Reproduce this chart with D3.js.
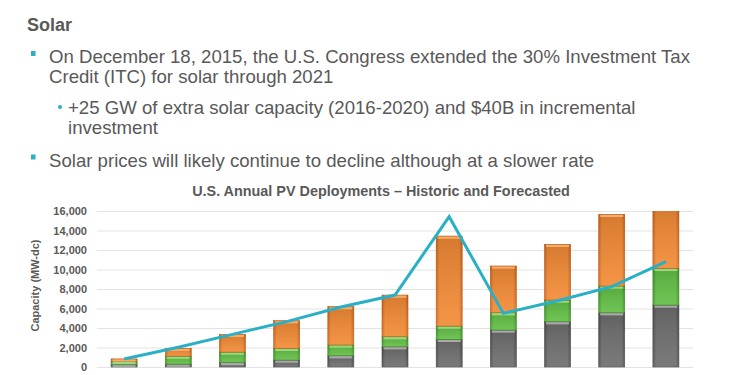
<!DOCTYPE html>
<html><head><meta charset="utf-8">
<script src="https://cdn.jsdelivr.net/npm/d3@7"></script>
<style>body{margin:0;background:#fff}svg{display:block}text{font-family:"Liberation Sans",Arial,sans-serif}</style>
</head><body>
<svg id="c" width="740" height="375"></svg>
<script>
const categories = ["2010","2011","2012","2013","2014","2015","2016","2017","2018","2019","2020"];
const residential = [240, 300, 470, 720, 1160, 2080, 2840, 3800, 4650, 5570, 6360];
const nonResidential = [350, 820, 1060, 1200, 1100, 1030, 1360, 1770, 2220, 2740, 3760];
const utility = [240, 800, 1820, 2830, 3930, 4270, 9230, 4790, 5710, 7350, 6280];
const totalLine = [820, 2020, 3350, 4650, 6150, 7380, 15420, 5500, 6800, 8240, 10800];
const yTicks = [0,2000,4000,6000,8000,10000,12000,14000,16000];
const seriesNames = ["Residential","Non-Residential","Utility"];

const svg = d3.select("#c");
const textCol = "#595959", teal = "#2ab0c6";

// Slide text
svg.append("text").attr("x",27).attr("y",31).attr("font-size",18).attr("font-weight","bold").attr("fill",textCol).text("Solar");
const paras = [
  {x:49,y:63,b:"sq",t:["On December 18, 2015, the U.S. Congress extended the 30% Investment Tax","Credit (ITC) for solar through 2021"]},
  {x:68,y:114,b:"dot",t:["+25 GW of extra solar capacity (2016-2020) and $40B in incremental","investment"]},
  {x:49,y:166.5,b:"sq",t:["Solar prices will likely continue to decline although at a slower rate"]}
];
paras.forEach(p=>{
  const g = svg.append("g").attr("transform",`translate(${p.x},${p.y}) scale(1.035,1)`);
  p.t.forEach((s,i)=>g.append("text").attr("x",0).attr("y",i*20.2).attr("font-size",18).attr("fill",textCol).text(s));
  if(p.b==="sq") svg.append("rect").attr("x",31).attr("y",p.y-12).attr("width",4.5).attr("height",5).attr("fill",teal);
  if(p.b==="dot") svg.append("circle").attr("cx",60).attr("cy",p.y-7).attr("r",2).attr("fill",teal);
});

// Chart
const m = {l:97, r:693, t:211, b:367};
const x = d3.scaleBand().domain(categories).range([m.l,m.r]).paddingInner(0.52).paddingOuter(0.26);
const y = d3.scaleLinear().domain([0,16000]).range([m.b,m.t]);

svg.append("text").attr("x",381).attr("y",195.5).attr("text-anchor","middle").attr("font-size",14.4).attr("font-weight","bold").attr("fill",textCol)
  .text("U.S. Annual PV Deployments \u2013 Historic and Forecasted");

const yAxis = svg.append("g").attr("transform",`translate(${m.l},0)`)
  .call(d3.axisLeft(y).tickValues(yTicks).tickFormat(d3.format(",")).tickSize(-(m.r-m.l)).tickPadding(10));
yAxis.select(".domain").remove();
yAxis.selectAll(".tick line").attr("stroke","#e3e3e3").attr("stroke-width",1);
yAxis.selectAll(".tick text").attr("font-size",11).attr("font-weight","bold").attr("fill",textCol)
  .attr("font-family","Liberation Sans, Arial, sans-serif");

svg.append("text").attr("transform","translate(39,285.5) rotate(-90)").attr("text-anchor","middle")
  .attr("font-size",11).attr("font-weight","bold").attr("fill",textCol).text("Capacity (MW-dc)");

// gradients
const defs = svg.append("defs");
const pal = [
  {id:"g0", edge:"#4e4e4e", mid:"#6e6e6e", top:"#b0b0b0", stroke:"#4a4a4a"},
  {id:"g1", edge:"#3f9a26", mid:"#62bf45", top:"#9fde86", stroke:"#3c8a22"},
  {id:"g2", edge:"#d2661a", mid:"#f28a35", top:"#f8b070", stroke:"#b95a14"}
];
pal.forEach(p=>{
  const g = defs.append("linearGradient").attr("id",p.id).attr("x1","0").attr("x2","1").attr("y1","0").attr("y2","0");
  g.append("stop").attr("offset","0").attr("stop-color",p.edge);
  g.append("stop").attr("offset","0.12").attr("stop-color",p.mid);
  g.append("stop").attr("offset","0.88").attr("stop-color",p.mid);
  g.append("stop").attr("offset","1").attr("stop-color",p.edge);
});
const og = defs.append("linearGradient").attr("id","ov").attr("x1","0").attr("x2","0").attr("y1","0").attr("y2","1");
og.append("stop").attr("offset","0").attr("stop-color","#000").attr("stop-opacity",0.12);
og.append("stop").attr("offset","1").attr("stop-color","#fff").attr("stop-opacity",0.08);
defs.append("clipPath").attr("id","clip").append("rect").attr("x",m.l).attr("y",m.t).attr("width",m.r-m.l).attr("height",m.b-m.t+1);

const data = categories.map((c,i)=>({cat:c, Residential:residential[i], "Non-Residential":nonResidential[i], Utility:utility[i]}));
const stack = d3.stack().keys(seriesNames)(data);
const bars = svg.append("g").attr("clip-path","url(#clip)");
stack.forEach((s,si)=>{
  const p = pal[si];
  const g = bars.append("g");
  s.forEach(d=>{
    const x0 = x(d.data.cat), w = x.bandwidth();
    const y0 = y(d[1]), h = y(d[0]) - y(d[1]);
    g.append("rect").attr("x",x0).attr("y",y0).attr("width",w).attr("height",h).attr("fill",`url(#${p.id})`).attr("stroke",p.stroke).attr("stroke-width",0.6);
    g.append("rect").attr("x",x0).attr("y",y0).attr("width",w).attr("height",h).attr("fill","url(#ov)");
    g.append("rect").attr("x",x0+1.5).attr("y",y0+0.5).attr("width",w-3).attr("height",Math.min(2.2,h)).attr("fill",p.top).attr("opacity",0.9);
  });
});

const line = d3.line().x((d,i)=>x(categories[i])+x.bandwidth()/2).y(d=>y(d));
svg.append("path").datum(totalLine).attr("d",line).attr("fill","none").attr("stroke",teal).attr("stroke-width",3).attr("stroke-linejoin","miter");
</script>
</body></html>
